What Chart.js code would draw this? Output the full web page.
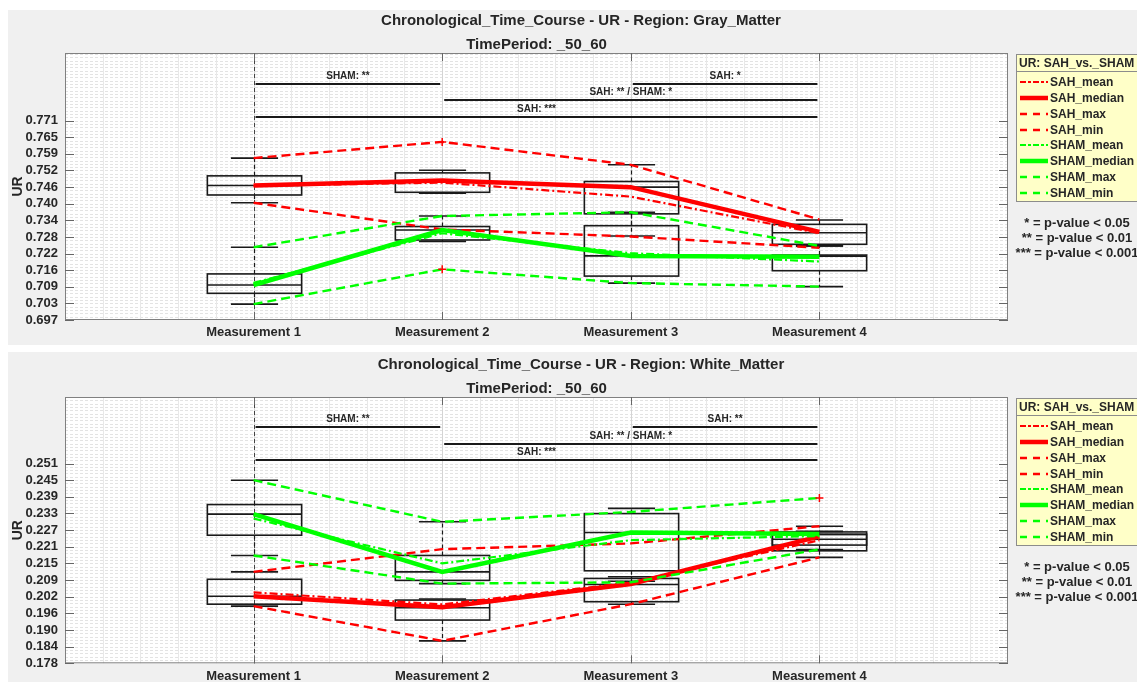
<!DOCTYPE html>
<html>
<head>
<meta charset="utf-8">
<script src="https://cdn.jsdelivr.net/npm/chart.js@4.4.0/dist/chart.umd.min.js"></script>
<style>
  body { margin: 0; width: 1137px; height: 682px; position: relative; overflow: hidden; background: #fff; }
  .panel { position: absolute; left: 8px; width: 1129px; background: #f0f0f0; }
  .wrap { position: absolute; left: 0; width: 1137px; }
  canvas { display: block; }
</style>
</head>
<body>
<div class="panel" style="top:10px;height:335px"></div>
<div class="panel" style="top:352px;height:330px"></div>
<div class="wrap" style="top:0;height:345px"><canvas id="gmChart"></canvas></div>
<div class="wrap" style="top:345px;height:337px"><canvas id="wmChart"></canvas></div>
<script>
// ---------- data ----------
const categories = ['Measurement 1', 'Measurement 2', 'Measurement 3', 'Measurement 4'];
const legendTitle = 'UR: SAH_vs._SHAM';
const pValueNotes = ['* = p-value < 0.05', '** = p-value < 0.01', '*** = p-value < 0.001'];
const periodLabel = 'TimePeriod: _50_60';

// gray matter
const gmTitle = 'Chronological_Time_Course - UR - Region: Gray_Matter';
const gmTickLabels = ['0.697', '0.703', '0.709', '0.716', '0.722', '0.728', '0.734', '0.740', '0.746', '0.752', '0.759', '0.765', '0.771'];
const gmYMax = 0.7961;
const gmSahMean    = [0.7468, 0.7480, 0.7428, 0.7292];
const gmSahMedian  = [0.7469, 0.7488, 0.7463, 0.7297];
const gmSahMax     = [0.7571, 0.7631, 0.7546, 0.7343];
const gmSahMin     = [0.7405, 0.7306, 0.7280, 0.7238];
const gmShamMean   = [0.7108, 0.7292, 0.7218, 0.7187];
const gmShamMedian = [0.7100, 0.7304, 0.7208, 0.7205];
const gmShamMax    = [0.7240, 0.7356, 0.7370, 0.7245];
const gmShamMin    = [0.7029, 0.7158, 0.7107, 0.7094];
// box stats: [lower whisker, q1, median, q3, upper whisker]
const gmSahBox  = [[0.7405, 0.7434, 0.7469, 0.7505, 0.7571], [0.7441, 0.7444, 0.7484, 0.7516, 0.7526],
                   [0.7282, 0.7364, 0.7463, 0.7484, 0.7546], [0.7245, 0.7251, 0.7294, 0.7325, 0.7341]];
const gmShamBox = [[0.7029, 0.7069, 0.7100, 0.7141, 0.7240], [0.7262, 0.7267, 0.7304, 0.7317, 0.7356],
                   [0.7107, 0.7133, 0.7208, 0.7320, 0.7370], [0.7094, 0.7153, 0.7207, 0.7211, 0.7245]];
const gmOutlierAt  = [2, 2];
const gmOutlierVal = [0.7631, 0.7158];
const gmSigText  = ['SHAM: **', 'SAH: *', 'SAH: ** / SHAM: *', 'SAH: ***'];
const gmSigFrom  = [1, 3, 2, 1];
const gmSigTo    = [2, 4, 4, 4];
const gmSigLevel = [0.7847, 0.7847, 0.7787, 0.7724];

// white matter
const wmTitle = 'Chronological_Time_Course - UR - Region: White_Matter';
const wmTickLabels = ['0.178', '0.184', '0.190', '0.196', '0.202', '0.209', '0.215', '0.221', '0.227', '0.233', '0.239', '0.245', '0.251'];
const wmYMax = 0.2753;
const wmSahMean    = [0.2039, 0.1995, 0.2075, 0.2230];
const wmSahMedian  = [0.2025, 0.1985, 0.2070, 0.2244];
const wmSahMax     = [0.2114, 0.2197, 0.2218, 0.2281];
const wmSahMin     = [0.1989, 0.1862, 0.1996, 0.2167];
const wmShamMean   = [0.2309, 0.2145, 0.2230, 0.2245];
const wmShamMedian = [0.2325, 0.2114, 0.2258, 0.2252];
const wmShamMax    = [0.2449, 0.2297, 0.2333, 0.2384];
const wmShamMin    = [0.2174, 0.2071, 0.2076, 0.2196];
const wmSahBox  = [[0.1989, 0.1996, 0.2025, 0.2087, 0.2114], [0.1862, 0.1938, 0.1983, 0.2011, 0.2015],
                   [0.1996, 0.2005, 0.2068, 0.2090, 0.2096], [0.2167, 0.2191, 0.2233, 0.2251, 0.2281]];
const wmShamBox = [[0.2174, 0.2248, 0.2325, 0.2360, 0.2449], [0.2071, 0.2083, 0.2114, 0.2174, 0.2297],
                   [0.2080, 0.2118, 0.2258, 0.2327, 0.2346], [0.2196, 0.2212, 0.2251, 0.2260, 0.2262]];
const wmOutlierAt  = [4];
const wmOutlierVal = [0.2384];
const wmSigText  = ['SHAM: **', 'SAH: **', 'SAH: ** / SHAM: *', 'SAH: ***'];
const wmSigFrom  = [1, 3, 2, 1];
const wmSigTo    = [2, 4, 4, 4];
const wmSigLevel = [0.2645, 0.2645, 0.2583, 0.2522];

// ---------- styling ----------
const FONT = '"Liberation Sans", Arial, Helvetica, sans-serif';
const INK = '#262626';
const RED = '#ff0000', GREEN = '#00ff00';
const DASH = [9, 5], DASHDOT = [8, 3, 2, 3];

function buildDatasets(s) {
  const pts = arr => arr.map((v, i) => ({ x: i + 1, y: v }));
  const line = (label, data, color, width, dash, order) =>
    ({ label, data: pts(data), borderColor: color, borderWidth: width, borderDash: dash, order });
  return [
    line('SAH_mean', s.sahMean, RED, 2.2, DASHDOT, 2),
    line('SAH_median', s.sahMedian, RED, 4.5, [], 2),
    line('SAH_max', s.sahMax, RED, 2.4, DASH, 2),
    line('SAH_min', s.sahMin, RED, 2.4, DASH, 2),
    line('SHAM_mean', s.shamMean, GREEN, 2.2, DASHDOT, 1),
    line('SHAM_median', s.shamMedian, GREEN, 4.5, [], 1),
    line('SHAM_max', s.shamMax, GREEN, 2.4, DASH, 1),
    line('SHAM_min', s.shamMin, GREEN, 2.4, DASH, 1)
  ];
}

// matlab-ish decorations: grid, boxplots, significance bars, legend
function matlabPlugin(s) {
  const yLo = parseFloat(s.tickLabels[0]);
  const yStep = (parseFloat(s.tickLabels[s.tickLabels.length - 1]) - yLo) / (s.tickLabels.length - 1);
  return {
    id: 'matlab',
    beforeDatasetsDraw(chart) {
      const { ctx, chartArea: a, scales: { x, y } } = chart;
      ctx.save();
      ctx.fillStyle = '#fff';
      ctx.fillRect(a.left, a.top, a.right - a.left, a.bottom - a.top);

      // horizontal minor grid
      ctx.lineWidth = 1;
      ctx.setLineDash([3, 2]);
      ctx.strokeStyle = 'rgba(0,0,0,0.11)';
      for (let k = 1; ; k++) {
        const v = yLo + k * yStep / 5;
        if (v > y.max) break;
        const py = Math.round(y.getPixelForValue(v)) + 0.5;
        ctx.beginPath(); ctx.moveTo(a.left, py); ctx.lineTo(a.right, py); ctx.stroke();
      }
      // vertical grid
      ctx.setLineDash([]);
      for (let k = 1; k < 25; k++) {
        const px = Math.round(x.getPixelForValue(k / 5)) + 0.5;
        ctx.strokeStyle = k % 5 === 0 ? '#d4d4d4' : '#e8e8e8';
        ctx.beginPath(); ctx.moveTo(px, a.top); ctx.lineTo(px, a.bottom); ctx.stroke();
      }
      // dashed line at first measurement
      const p1 = Math.round(x.getPixelForValue(1)) + 0.5;
      ctx.strokeStyle = '#444';
      ctx.setLineDash([4, 3]);
      ctx.beginPath(); ctx.moveTo(p1, a.top); ctx.lineTo(p1, a.bottom); ctx.stroke();

      // boxplots
      const half = x.getPixelForValue(1.25) - x.getPixelForValue(1);
      [s.sahBox, s.shamBox].forEach(group => group.forEach((b, i) => {
        const xc = Math.round(x.getPixelForValue(i + 1)) + 0.5;
        const [lo, q1, med, q3, hi] = b.map(v => y.getPixelForValue(v));
        ctx.strokeStyle = '#1a1a1a';
        ctx.lineWidth = 1.2;
        ctx.setLineDash([4, 3]);
        ctx.beginPath();
        ctx.moveTo(xc, q3); ctx.lineTo(xc, hi);
        ctx.moveTo(xc, q1); ctx.lineTo(xc, lo);
        ctx.stroke();
        ctx.setLineDash([]);
        ctx.lineWidth = 1.6;
        ctx.beginPath();
        ctx.moveTo(xc - half / 2, hi); ctx.lineTo(xc + half / 2, hi);
        ctx.moveTo(xc - half / 2, lo); ctx.lineTo(xc + half / 2, lo);
        ctx.moveTo(xc - half, med); ctx.lineTo(xc + half, med);
        ctx.stroke();
        ctx.strokeRect(xc - half, q3, 2 * half, q1 - q3);
      }));

      // significance bars
      ctx.font = `bold 10px ${FONT}`;
      ctx.textAlign = 'center';
      ctx.textBaseline = 'middle';
      s.sigText.forEach((t, i) => {
        const x0 = x.getPixelForValue(s.sigFrom[i]) + 2;
        const x1 = x.getPixelForValue(s.sigTo[i]) - 2;
        const py = Math.round(y.getPixelForValue(s.sigLevel[i]));
        ctx.strokeStyle = '#1a1a1a';
        ctx.lineWidth = 2;
        ctx.beginPath(); ctx.moveTo(x0, py); ctx.lineTo(x1, py); ctx.stroke();
        ctx.fillStyle = INK;
        ctx.fillText(t, (x0 + x1) / 2, py - 8);
      });
      ctx.restore();
    },
    afterDatasetsDraw(chart) {
      const { ctx, chartArea: a, scales: { x, y } } = chart;
      ctx.save();
      // outliers
      ctx.strokeStyle = RED;
      ctx.lineWidth = 1.5;
      s.outlierAt.forEach((m, i) => {
        const px = x.getPixelForValue(m), py = y.getPixelForValue(s.outlierVal[i]);
        ctx.beginPath();
        ctx.moveTo(px - 4, py); ctx.lineTo(px + 4, py);
        ctx.moveTo(px, py - 4); ctx.lineTo(px, py + 4);
        ctx.stroke();
      });

      // axes box and ticks
      ctx.strokeStyle = '#808080';
      ctx.lineWidth = 1;
      ctx.strokeRect(a.left + 0.5, a.top + 0.5, a.right - a.left - 1, a.bottom - a.top - 1);
      ctx.strokeStyle = '#666';
      ctx.beginPath();
      s.tickLabels.forEach((t, i) => {
        const py = Math.round(y.getPixelForValue(yLo + i * yStep)) + 0.5;
        ctx.moveTo(a.left, py); ctx.lineTo(a.left + 9, py);
        ctx.moveTo(a.right - 9, py); ctx.lineTo(a.right, py);
      });
      categories.forEach((c, i) => {
        const px = Math.round(x.getPixelForValue(i + 1)) + 0.5;
        ctx.moveTo(px, a.top); ctx.lineTo(px, a.top + 8);
        ctx.moveTo(px, a.bottom); ctx.lineTo(px, a.bottom - 8);
      });
      ctx.stroke();

      // titles
      ctx.fillStyle = INK;
      ctx.textBaseline = 'middle';
      ctx.textAlign = 'center';
      ctx.font = `bold 15px ${FONT}`;
      ctx.fillText(s.title, 581, a.top - 32);
      ctx.fillText(periodLabel, (a.left + a.right) / 2, a.top - 8.5);

      // y axis name
      ctx.save();
      ctx.translate(18, (a.top + a.bottom) / 2);
      ctx.rotate(-Math.PI / 2);
      ctx.font = `bold 14px ${FONT}`;
      ctx.fillText('UR', 0, 0);
      ctx.restore();

      // legend
      const lx = a.right + 8, ly = a.top + 1;
      ctx.fillStyle = '#ffffc8';
      ctx.fillRect(lx, ly, 140, 147);
      ctx.strokeStyle = '#8c8c8c';
      ctx.strokeRect(lx + 0.5, ly + 0.5, 140, 147);
      ctx.beginPath(); ctx.moveTo(lx, ly + 17.5); ctx.lineTo(lx + 140, ly + 17.5); ctx.stroke();
      ctx.fillStyle = INK;
      ctx.textAlign = 'left';
      ctx.font = `bold 12px ${FONT}`;
      ctx.fillText(legendTitle, lx + 3, ly + 9.5);
      chart.data.datasets.forEach((d, i) => {
        const yy = Math.round(ly + 28 + i * 15.85);
        ctx.strokeStyle = d.borderColor;
        ctx.lineWidth = d.borderWidth;
        ctx.setLineDash(d.borderDash.length ? (d.borderDash === DASH ? [7, 6] : [6, 2, 3, 2]) : []);
        ctx.beginPath(); ctx.moveTo(lx + 4, yy); ctx.lineTo(lx + 32, yy); ctx.stroke();
        ctx.setLineDash([]);
        ctx.fillStyle = INK;
        ctx.fillText(d.label, lx + 34, yy + 0.5);
      });

      // p-value notes
      ctx.textAlign = 'center';
      ctx.font = `bold 13px ${FONT}`;
      pValueNotes.forEach((t, i) => ctx.fillText(t, a.right + 69, a.top + 170 + i * 15));
      ctx.restore();
    }
  };
}

function makePanel(canvasId, s) {
  const yLo = parseFloat(s.tickLabels[0]);
  const yStep = (parseFloat(s.tickLabels[s.tickLabels.length - 1]) - yLo) / (s.tickLabels.length - 1);
  const tickFont = { family: FONT, size: 13, weight: 'bold' };
  return new Chart(document.getElementById(canvasId), {
    type: 'line',
    data: { datasets: buildDatasets(s) },
    options: {
      responsive: true,
      maintainAspectRatio: false,
      animation: false,
      layout: { padding: { top: s.padTop, right: 129, left: 0, bottom: 0 } },
      elements: { point: { radius: 0 }, line: { tension: 0, fill: false, borderCapStyle: 'butt' } },
      plugins: { legend: { display: false }, tooltip: { enabled: false } },
      scales: {
        x: {
          type: 'linear', min: 0, max: 5,
          afterFit: sc => { sc.height = s.xAxisH; },
          afterBuildTicks: sc => { sc.ticks = categories.map((c, i) => ({ value: i + 1 })); },
          ticks: { callback: v => categories[v - 1], padding: 5, font: tickFont, color: INK, maxRotation: 0, autoSkip: false },
          grid: { display: false, drawTicks: false },
          border: { display: false }
        },
        y: {
          type: 'linear', min: yLo, max: s.yMax,
          afterFit: sc => { sc.width = 65; },
          afterBuildTicks: sc => { sc.ticks = s.tickLabels.map((t, i) => ({ value: yLo + i * yStep })); },
          ticks: { callback: (v, i) => s.tickLabels[i], padding: 7, font: tickFont, color: INK, autoSkip: false },
          grid: { display: false, drawTicks: false },
          border: { display: false }
        }
      }
    },
    plugins: [matlabPlugin(s)]
  });
}

makePanel('gmChart', {
  title: gmTitle, tickLabels: gmTickLabels, yMax: gmYMax, padTop: 53, xAxisH: 25,
  sahMean: gmSahMean, sahMedian: gmSahMedian, sahMax: gmSahMax, sahMin: gmSahMin,
  shamMean: gmShamMean, shamMedian: gmShamMedian, shamMax: gmShamMax, shamMin: gmShamMin,
  sahBox: gmSahBox, shamBox: gmShamBox, outlierAt: gmOutlierAt, outlierVal: gmOutlierVal,
  sigText: gmSigText, sigFrom: gmSigFrom, sigTo: gmSigTo, sigLevel: gmSigLevel
});

makePanel('wmChart', {
  title: wmTitle, tickLabels: wmTickLabels, yMax: wmYMax, padTop: 52, xAxisH: 18.7,
  sahMean: wmSahMean, sahMedian: wmSahMedian, sahMax: wmSahMax, sahMin: wmSahMin,
  shamMean: wmShamMean, shamMedian: wmShamMedian, shamMax: wmShamMax, shamMin: wmShamMin,
  sahBox: wmSahBox, shamBox: wmShamBox, outlierAt: wmOutlierAt, outlierVal: wmOutlierVal,
  sigText: wmSigText, sigFrom: wmSigFrom, sigTo: wmSigTo, sigLevel: wmSigLevel
});
</script>
</body>
</html>
